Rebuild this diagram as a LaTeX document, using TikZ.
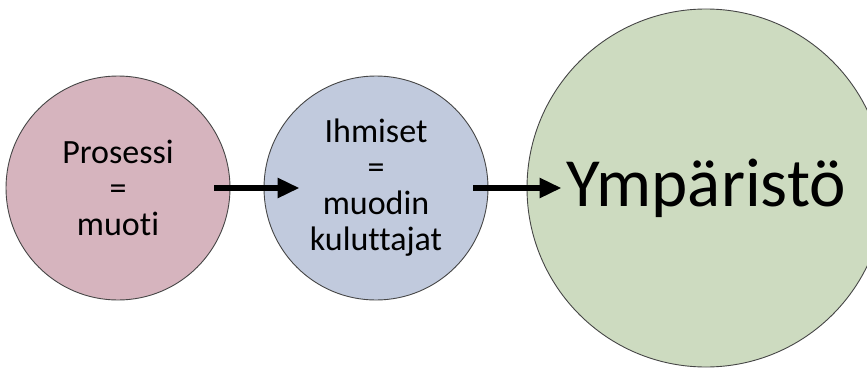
\documentclass[tikz,border=0pt]{standalone}
\usepackage{fontspec}
\setmainfont{Carlito}[Ligatures=NoCommon]
\usetikzlibrary{arrows.meta}
\definecolor{pcol}{RGB}{214,180,190}
\definecolor{bcol}{RGB}{193,202,221}
\definecolor{gcol}{RGB}{205,219,192}
\definecolor{lcol}{RGB}{70,70,70}
\tikzset{every picture/.style={x=1pt,y=-1pt}}
\tikzset{ball/.style={circle,draw=lcol,line width=0.9pt,inner sep=0pt,align=center,text=black}}
\tikzset{small/.style={minimum size=224,font=\fontsize{34}{36}\selectfont}}
\tikzset{big/.style={minimum size=358,font=\fontsize{69}{72}\selectfont}}
\tikzset{edge/.style={-{Triangle[length=22pt,width=19pt]},line width=5.5pt}}

\begin{document}
\begin{tikzpicture}
\useasboundingbox (0,0) rectangle (867,369);

\node [ball,small,fill=pcol] (muoti) at (118,188) {Prosessi\\=\\muoti};
\node [ball,small,fill=bcol] (ihmiset) at (376,188) {Ihmiset\\=\\muodin\\kuluttajat};
\node [ball,big,fill=gcol] (ymparisto) at (706,188) {Ympäristö};

\draw [edge,shorten <=-16pt,shorten >=-36pt] (muoti.east) -- (ihmiset.west);
\draw [edge,shorten <=-15pt,shorten >=-35pt] (ihmiset.east) -- (ymparisto.west);
\end{tikzpicture}
\end{document}
